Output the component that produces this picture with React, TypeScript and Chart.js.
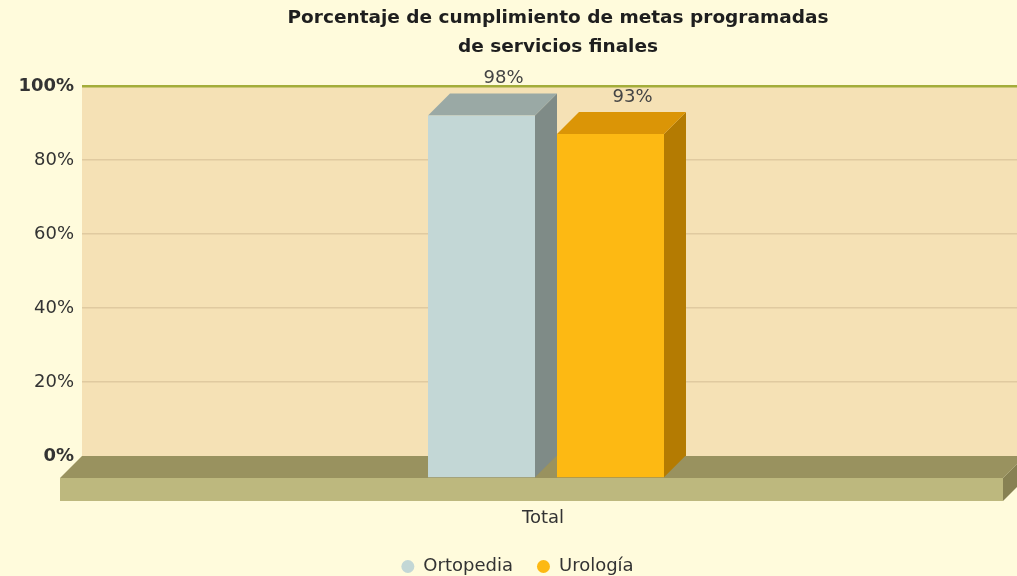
import React, { useEffect, useRef } from "react";
import { Chart, registerables } from "chart.js";

Chart.register(...registerables);

// ---- data ----
const categories = ["Total"];
const seriesNames = ["Ortopedia", "Urología"];
const ortopediaValues = [98];
const urologiaValues = [93];
const yTickValues = [0, 20, 40, 60, 80, 100];
const titleLines = ["Porcentaje de cumplimiento de metas programadas", "de servicios finales"];

// ---- style ----
const FONT = "'DejaVu Sans', Verdana, sans-serif";
const BG = "#fffbdc";
const WALL = "#f5e1b5";
const DEPTH = 22;
const FLOOR_THICK = 23;
const FLOOR_RIGHT_INSET = 29;
const TITLE_X = 558;
const TITLE_Y = 18.5;
const TITLE_LINE = 29;
const faceColors = [
  { front: "#c3d7d6", top: "#9aa9a5", side: "#7f8b87" },
  { front: "#fdb913", top: "#db9506", side: "#b47b02" },
];

function poly(ctx: CanvasRenderingContext2D, pts: number[][], color: string) {
  ctx.beginPath();
  ctx.moveTo(pts[0][0], pts[0][1]);
  for (let i = 1; i < pts.length; i++) ctx.lineTo(pts[i][0], pts[i][1]);
  ctx.closePath();
  ctx.fillStyle = color;
  ctx.fill();
}

const threeDPlugin = {
  id: "threeD",
  beforeDraw(chart: any) {
    const { ctx, chartArea: a, width, height } = chart;
    ctx.save();
    ctx.fillStyle = BG;
    ctx.fillRect(0, 0, width, height);
    ctx.fillStyle = WALL;
    ctx.fillRect(a.left, a.top, a.right - a.left, a.bottom - a.top);
    // title
    ctx.fillStyle = "#1e1e1e";
    ctx.font = `bold 18.5px ${FONT}`;
    ctx.textAlign = "center";
    ctx.textBaseline = "middle";
    titleLines.forEach((t, i) => ctx.fillText(t, TITLE_X, TITLE_Y + i * TITLE_LINE));
    ctx.restore();
  },
  beforeDatasetsDraw(chart: any) {
    const { ctx, chartArea: a } = chart;
    const y0 = chart.scales.y.getPixelForValue(0);
    const bl = a.left;
    const br = a.right - FLOOR_RIGHT_INSET;
    const fl = bl - DEPTH;
    const fr = br - DEPTH;
    const fy = y0 + DEPTH;
    ctx.save();
    poly(ctx, [[bl, y0], [br, y0], [fr, fy], [fl, fy]], "#99925f");
    poly(ctx, [[fl, fy], [fr, fy], [fr, fy + FLOOR_THICK], [fl, fy + FLOOR_THICK]], "#bdb87e");
    poly(ctx, [[fr, fy], [br, y0], [br, y0 + FLOOR_THICK], [fr, fy + FLOOR_THICK]], "#878153");
    ctx.restore();
  },
  beforeDatasetDraw(chart: any, args: any) {
    const { ctx } = chart;
    const meta = args.meta;
    const colors = faceColors[meta.index % faceColors.length];
    ctx.save();
    meta.data.forEach((el: any) => {
      const { x, y, base, width } = el.getProps(["x", "y", "base", "width"], true);
      const bl = x - width / 2;
      const br = x + width / 2;
      const fl = bl - DEPTH;
      const fr = br - DEPTH;
      const ft = y + DEPTH;
      const fb = base + DEPTH;
      poly(ctx, [[fr, ft], [br, y], [br, base], [fr, fb]], colors.side);
      poly(ctx, [[fl, ft], [fr, ft], [br, y], [bl, y]], colors.top);
      poly(ctx, [[fl, ft], [fr, ft], [fr, fb], [fl, fb]], colors.front);
    });
    ctx.restore();
    return false;
  },
  afterDatasetsDraw(chart: any) {
    const { ctx } = chart;
    ctx.save();
    ctx.font = `18px ${FONT}`;
    ctx.fillStyle = "#444444";
    ctx.textAlign = "center";
    ctx.textBaseline = "middle";
    chart.data.datasets.forEach((ds: any, i: number) => {
      const meta = chart.getDatasetMeta(i);
      meta.data.forEach((el: any, j: number) => {
        const { x, y } = el.getProps(["x", "y"], true);
        ctx.fillText(`${ds.data[j]}%`, x, y - 15);
      });
    });
    ctx.restore();
  },
};

export default function App() {
  const canvasRef = useRef<HTMLCanvasElement | null>(null);

  useEffect(() => {
    if (!canvasRef.current) return;
    const chart = new Chart(canvasRef.current, {
      type: "bar",
      data: {
        labels: categories,
        datasets: [
          {
            label: seriesNames[0],
            data: ortopediaValues,
            backgroundColor: faceColors[0].front,
            borderWidth: 0,
            categoryPercentage: 0.2654,
            barPercentage: 0.8295,
          },
          {
            label: seriesNames[1],
            data: urologiaValues,
            backgroundColor: faceColors[1].front,
            borderWidth: 0,
            categoryPercentage: 0.2654,
            barPercentage: 0.8295,
          },
        ],
      },
      options: {
        responsive: false,
        animation: false,
        devicePixelRatio: 1,
        layout: { padding: { left: -19, right: 0, top: 86, bottom: -9.5 } },
        plugins: {
          title: { display: false },
          legend: {
            position: "bottom",
            labels: {
              usePointStyle: true,
              pointStyle: "circle",
              pointStyleWidth: 13,
              boxHeight: 9.2,
              padding: 24,
              color: "#333333",
              font: { family: FONT, size: 18 },
            },
          },
          tooltip: { enabled: false },
        },
        scales: {
          x: {
            grid: { display: false, drawTicks: false },
            border: { display: false },
            ticks: {
              padding: 52,
              labelOffset: -25,
              color: "#333333",
              font: { family: FONT, size: 18 },
            },
            afterFit: (s: any) => {
              s.height = 77.5;
            },
          },
          y: {
            min: 0,
            max: 100,
            afterBuildTicks: (s: any) => {
              s.ticks = yTickValues.map((v) => ({ value: v }));
            },
            ticks: {
              padding: 8,
              color: "#333333",
              callback: (v: any) => `${v}%`,
              font: (c: any) => ({
                family: FONT,
                size: 18,
                weight: c.tick && (c.tick.value === 0 || c.tick.value === 100) ? "bold" : "normal",
              }),
            },
            grid: {
              drawTicks: false,
              color: (c: any) =>
                c.tick && c.tick.value === 100 ? "#a3ad3a" : c.tick && c.tick.value === 0 ? "rgba(0,0,0,0)" : "#e0caa0",
              lineWidth: (c: any) => (c.tick && c.tick.value === 100 ? 2.5 : 1.5),
            },
            border: { display: false },
            afterFit: (s: any) => {
              s.width = 101;
            },
          },
        },
      },
      plugins: [threeDPlugin],
    } as any);
    return () => chart.destroy();
  }, []);

  return (
    <div
      style={{
        position: "fixed",
        left: 0,
        top: 0,
        width: 1017,
        height: 576,
        overflow: "hidden",
        background: BG,
      }}
    >
      <canvas ref={canvasRef} width={1054} height={576} style={{ display: "block", width: 1054, height: 576 }} />
    </div>
  );
}
